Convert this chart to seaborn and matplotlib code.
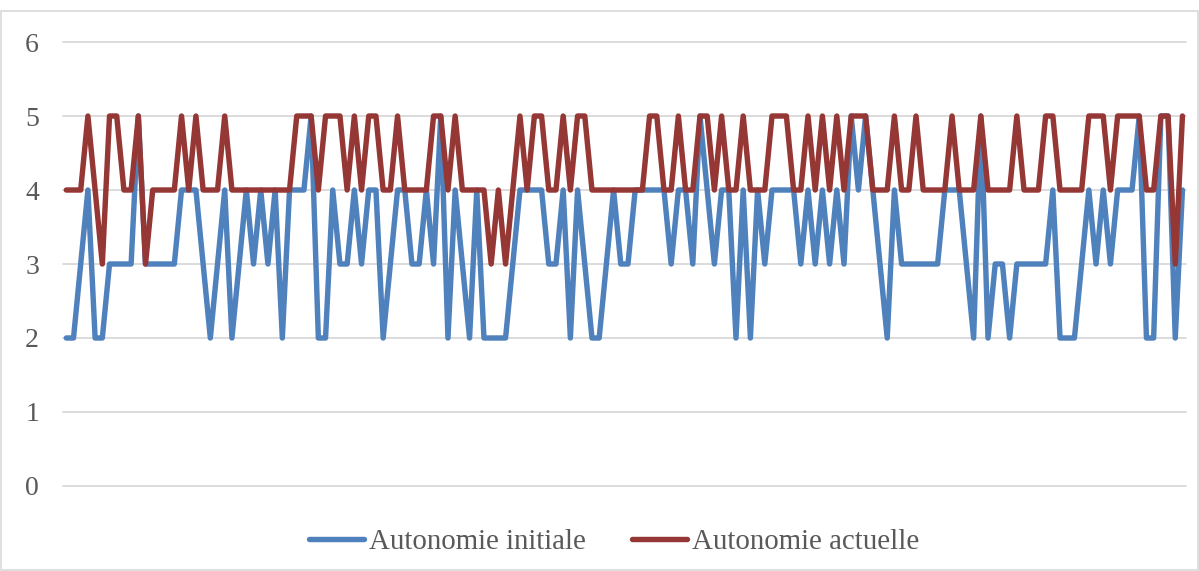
import matplotlib
matplotlib.use("Agg")
import matplotlib.pyplot as plt
import pandas as pd
import seaborn as sns

# Scores per observation (scale 0-6)
autonomie_initiale = [
    2, 2, 3, 4, 2, 2, 3, 3, 3, 3, 5, 3, 3, 3, 3, 3, 4, 4, 4, 3,
    2, 3, 4, 2, 3, 4, 3, 4, 3, 4, 2, 4, 4, 4, 5, 2, 2, 4, 3, 3,
    4, 3, 4, 4, 2, 3, 4, 4, 3, 3, 4, 3, 5, 2, 4, 3, 2, 4, 2, 2,
    2, 2, 3, 4, 4, 4, 4, 3, 3, 4, 2, 4, 3, 2, 2, 3, 4, 3, 3, 4,
    4, 4, 4, 4, 3, 4, 4, 3, 5, 4, 3, 4, 4, 2, 4, 2, 4, 3, 4, 4,
    4, 4, 3, 4, 3, 4, 3, 4, 3, 5, 4, 5, 4, 3, 2, 4, 3, 3, 3, 3,
    3, 3, 4, 4, 4, 3, 2, 5, 2, 3, 3, 2, 3, 3, 3, 3, 3, 4, 2, 2,
    2, 3, 4, 3, 4, 3, 4, 4, 4, 5, 2, 2, 5, 5, 2, 4,
]
autonomie_actuelle = [
    4, 4, 4, 5, 4, 3, 5, 5, 4, 4, 5, 3, 4, 4, 4, 4, 5, 4, 5, 4,
    4, 4, 5, 4, 4, 4, 4, 4, 4, 4, 4, 4, 5, 5, 5, 4, 5, 5, 5, 4,
    5, 4, 5, 5, 4, 4, 5, 4, 4, 4, 4, 5, 5, 4, 5, 4, 4, 4, 4, 3,
    4, 3, 4, 5, 4, 5, 5, 4, 4, 5, 4, 5, 5, 4, 4, 4, 4, 4, 4, 4,
    4, 5, 5, 4, 4, 5, 4, 4, 5, 5, 4, 5, 4, 4, 5, 4, 4, 4, 5, 5,
    5, 4, 4, 5, 4, 5, 4, 5, 4, 5, 5, 5, 4, 4, 4, 5, 4, 4, 5, 4,
    4, 4, 4, 5, 4, 4, 4, 5, 4, 4, 4, 4, 5, 4, 4, 4, 5, 5, 4, 4,
    4, 4, 5, 5, 5, 4, 5, 5, 5, 5, 4, 4, 5, 5, 3, 5,
]
series_names = ["Autonomie initiale", "Autonomie actuelle"]
series_colors = ["#4F81BD", "#953735"]
y_ticks = [0, 1, 2, 3, 4, 5, 6]

sns.set_theme(style="white")
plt.rcParams["font.family"] = ["Liberation Serif", "DejaVu Serif"]

n = len(autonomie_initiale)
df = pd.DataFrame({
    "obs": list(range(n)) * 2,
    "score": autonomie_initiale + autonomie_actuelle,
    "serie": [series_names[0]] * n + [series_names[1]] * n,
})

fig = plt.figure(figsize=(11.99, 5.71), dpi=100)
ax = fig.add_axes([0.0523, 0.1489, 0.9369, 0.7775])

sns.lineplot(data=df, x="obs", y="score", hue="serie", hue_order=series_names,
             palette=series_colors, linewidth=3.9, sort=False, ax=ax,
             solid_joinstyle="round", solid_capstyle="round")

ax.set_xlim(-0.5, n - 0.5)
ax.set_ylim(0, 6)
ax.set_yticks(y_ticks)
ax.set_xticks([])
ax.set_xlabel("")
ax.set_ylabel("")
ax.yaxis.grid(True, color="#D9D9D9", linewidth=1.3)
ax.set_axisbelow(True)
for gl in ax.get_ygridlines():
    gl.set_clip_on(False)
for side in ["top", "right", "left", "bottom"]:
    ax.spines[side].set_visible(False)
ax.tick_params(axis="y", length=0, pad=17, labelsize=20, labelcolor="#595959")

handles, labels = ax.get_legend_handles_labels()
ax.get_legend().remove()
fig.legend(handles, labels, loc="center", bbox_to_anchor=(0.512, 0.051), ncol=2,
           frameon=False, fontsize=20.8, handlelength=1.9, handletextpad=0.18,
           columnspacing=1.6, labelcolor="#595959")

# Thin frame around the chart area
fig.patches.append(plt.Rectangle((0.001, 0.001), 0.998, 0.98, transform=fig.transFigure,
                                 fill=False, edgecolor="#D9D9D9", linewidth=1.2))

fig.savefig("out.png", dpi=100)
